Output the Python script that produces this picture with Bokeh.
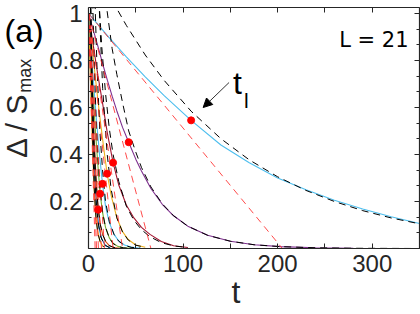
import math
from bokeh.plotting import figure
from bokeh.layouts import row
from bokeh.models import (LinearAxis, FixedTicker, CustomJSTickFormatter, Label,
                          Arrow, NormalHead, Range1d, Title)
from bokeh.embed import file_html
from bokeh.resources import INLINE

# ---------------- data ----------------
# solid curves Delta/S_max vs t
tA = [0, 20, 40, 60, 80, 108.5, 140, 170, 200, 230, 260, 290, 320, 350]
yA = [1, 0.905, 0.815, 0.73, 0.65, 0.545, 0.44, 0.365, 0.30, 0.25, 0.205, 0.168, 0.135, 0.106]
tB = [0, 5, 10, 15, 20, 25, 30, 36, 42.5, 50, 56, 66, 78, 90, 105, 126, 150, 175, 203, 240, 280, 350]
yB = [1, 0.93, 0.86, 0.785, 0.715, 0.648, 0.585, 0.515, 0.452, 0.38, 0.33, 0.255, 0.188, 0.139, 0.095, 0.056, 0.031, 0.016, 0.008, 0.003, 0.001, 0]
tC = [0, 5, 10, 15, 20, 26, 32, 40, 48, 56, 65, 77, 90, 105]
yC = [1, 0.865, 0.735, 0.615, 0.49, 0.365, 0.27, 0.185, 0.13, 0.09, 0.06, 0.03, 0.012, 0.004]
tD = [0, 4, 8, 12, 16, 19.7, 24, 30, 36, 42, 50, 60]
yD = [1, 0.85, 0.7, 0.56, 0.43, 0.318, 0.225, 0.13, 0.072, 0.038, 0.015, 0.005]
tE = [0, 3, 6, 9, 12, 14.8, 18, 22, 27, 32, 38, 45, 55]
yE = [1, 0.83, 0.67, 0.52, 0.385, 0.275, 0.18, 0.11, 0.06, 0.032, 0.015, 0.006, 0.001]
tF = [0, 2.5, 5, 7.5, 10, 12.3, 15, 18, 22, 26, 31, 37, 45]
yF = [1, 0.82, 0.65, 0.49, 0.35, 0.233, 0.15, 0.09, 0.045, 0.022, 0.009, 0.003, 0.001]
tG = [0, 2, 4, 6, 8, 10.2, 12.5, 15, 18, 22, 27, 33]
yG = [1, 0.81, 0.63, 0.46, 0.3, 0.165, 0.1, 0.06, 0.03, 0.012, 0.004, 0.001]
tH = [0, 1.5, 3, 4.5, 6, 7.5, 9, 11, 14, 18, 23]
yH = [1, 0.83, 0.66, 0.5, 0.36, 0.24, 0.16, 0.09, 0.04, 0.012, 0.003]
tI = [0, 1.2, 2.4, 3.6, 4.8, 6, 7.5, 9.5, 12, 16]
yI = [1, 0.83, 0.67, 0.51, 0.37, 0.25, 0.15, 0.08, 0.03, 0.006]

# black dashed exponential fits
fA_t = [25, 40, 60, 80, 108.5, 140, 170, 200, 230, 260, 290, 320, 350]
fA_y = [1.055, 0.949, 0.823, 0.715, 0.584, 0.467, 0.377, 0.305, 0.247, 0.200, 0.161, 0.130, 0.105]
fB_t = [18, 25, 30, 36, 42.5, 50, 56, 66, 78, 90, 105, 126, 150, 175, 203, 240, 280, 350]
fB_y = [1.06, 0.85, 0.74, 0.62, 0.50, 0.41, 0.345, 0.262, 0.19, 0.139, 0.095, 0.056, 0.031, 0.016, 0.008, 0.003, 0.001, 0]
fC_t = [11, 14, 18, 22, 26, 32, 40, 48, 56, 65, 77, 90, 105]
fC_y = [1.06, 0.86, 0.66, 0.51, 0.40, 0.285, 0.18, 0.12, 0.08, 0.05, 0.025, 0.011, 0.004]
fD_t = [11, 15, 19.7, 24, 30, 36, 42, 50, 60]
fD_y = [1.06, 0.68, 0.403, 0.25, 0.13, 0.07, 0.036, 0.014, 0.005]
fE_t = [6.5, 9, 12, 14.8, 18, 22, 27, 32, 38, 45, 55]
fE_y = [1.099, 0.769, 0.501, 0.336, 0.2, 0.115, 0.06, 0.031, 0.014, 0.005, 0.001]
fF_t = [4.5, 6, 8, 10, 12.3, 15, 18, 22, 26, 31, 37, 45]
fF_y = [1.05, 0.80, 0.556, 0.386, 0.253, 0.153, 0.09, 0.045, 0.021, 0.0085, 0.0028, 0.0007]
fG_t = [2, 4, 6, 8, 10.2, 12.5, 15, 18, 22, 27, 33]
fG_y = [1.077, 0.691, 0.443, 0.284, 0.174, 0.102, 0.06, 0.031, 0.0125, 0.0042, 0.0011]
fH_t = [2, 4, 6, 8, 10, 13, 17, 22]
fH_y = [1.13, 0.638, 0.36, 0.203, 0.115, 0.049, 0.016, 0.004]
fI_t = [2, 3, 4.5, 6, 8, 10, 13, 16]
fI_y = [1.077, 0.754, 0.441, 0.258, 0.126, 0.062, 0.021, 0.007]

# red dashed linear decay: from 1 at t=0 to 0 at t=T
T_lin = [205, 66, 36, 26, 17, 13.7, 10.5, 8.5, 7]
# red dots at t_l
tl_t = [108.5, 42.5, 26, 19.7, 14.8, 12.3, 10.2]
tl_y = [0.545, 0.452, 0.365, 0.318, 0.275, 0.233, 0.165]

curve_colors = ["#4DBEEE", "#7E2F8E", "#A2142F", "#EDB120", "#4DBEEE",
                "#77AC30", "#D95319", "#0072BD", "#EDB120"]

x_tick_vals = [0, 50, 100, 150, 200, 250, 300, 350]
y_tick_vals = [0.2, 0.4, 0.6, 0.8, 1.0]

# ---------------- main figure ----------------
XMAX, YMAX = 350, 1.025
AX = "#262626"
FONT = "Liberation Sans"

fig = figure(width=374, height=314, output_backend="svg", toolbar_location=None,
             x_range=Range1d(0, XMAX), y_range=Range1d(0, YMAX),
             min_border_left=41, min_border_right=1, min_border_top=7, min_border_bottom=66,
             x_axis_type=None, y_axis_type=None)
fig.xgrid.visible = False
fig.ygrid.visible = False
fig.outline_line_color = None

xt = FixedTicker(ticks=x_tick_vals, minor_ticks=[])
yt = FixedTicker(ticks=y_tick_vals, minor_ticks=[k * 0.2 / 3 for k in range(0, 16)])
xfmt = CustomJSTickFormatter(code="return (tick % 100 == 0) ? tick.toFixed(0) : '';")
yfmt = CustomJSTickFormatter(code="return (Math.round(tick*10)/10).toString();")
blank = CustomJSTickFormatter(code="return '';")


def style(ax, labels=True):
    ax.axis_line_color = AX
    ax.axis_line_width = 1.2
    ax.major_tick_line_color = AX
    ax.minor_tick_line_color = AX
    ax.major_tick_in = 5
    ax.major_tick_out = 0
    ax.minor_tick_in = 3
    ax.minor_tick_out = 0
    ax.major_label_text_color = AX
    ax.major_label_text_font = FONT
    ax.major_label_text_font_size = "24px" if labels else "0px"
    ax.major_label_standoff = 6 if labels else 0


bx = LinearAxis(ticker=xt, formatter=xfmt)
style(bx)
fig.add_layout(bx, "below")
tx = LinearAxis(ticker=xt, formatter=blank)
style(tx, False)
fig.add_layout(tx, "above")
ly = LinearAxis(ticker=yt, formatter=yfmt)
style(ly)
fig.add_layout(ly, "left")
ry = LinearAxis(ticker=yt, formatter=blank)
style(ry, False)
fig.add_layout(ry, "right")

# x-axis label "t" as a title below the axis, placed left of centre like the original
fig.add_layout(Title(text="t", text_font=FONT, text_font_size="32px", text_color=AX,
                     text_font_style="normal", align="left", offset=143,
                     vertical_align="bottom", standoff=-6), "below")

curves_t = [tA, tB, tC, tD, tE, tF, tG, tH, tI]
curves_y = [yA, yB, yC, yD, yE, yF, yG, yH, yI]
fits_t = [fA_t, fB_t, fC_t, fD_t, fE_t, fF_t, fG_t, fH_t, fI_t]
fits_y = [fA_y, fB_y, fC_y, fD_y, fE_y, fF_y, fG_y, fH_y, fI_y]

for t, y, c in zip(curves_t, curves_y, curve_colors):
    fig.line(t, y, line_color=c, line_width=1.1)
for t, y in zip(fits_t, fits_y):
    fig.line(t, y, line_color="black", line_width=1.0, line_dash="7 5")
for T in T_lin:
    fig.line([0, T], [1, 0], line_color="#ff2a2a", line_alpha=0.85, line_width=1.0, line_dash="7 5")
fig.scatter(tl_t, tl_y, size=7, fill_color="#ff0000", line_color="#ff0000")

# in-frame texts (image pixel -> data)
SX = XMAX / 332.0
SY = YMAX / 241.0


def dx(img_x):
    return (img_x - 87) * SX


def dy(img_y):
    return (248 - img_y) * SY


fig.add_layout(Label(x=dx(408), y=dy(39), text="L = 21", text_font="DejaVu Sans",
                     text_font_size="21px", text_color="black", text_align="right",
                     text_baseline="alphabetic"))
fig.add_layout(Label(x=dx(232), y=dy(82), text="t", text_font=FONT,
                     text_font_size="32px", text_color="black", text_align="left",
                     text_baseline="alphabetic"))
fig.add_layout(Label(x=dx(243), y=dy(100), text="l", text_font=FONT,
                     text_font_size="21px", text_color="black", text_align="left",
                     text_baseline="alphabetic"))
fig.add_layout(Arrow(end=NormalHead(size=9, fill_color="black", line_color="black"),
                     x_start=dx(228), y_start=dy(82), x_end=dx(202), y_end=dy(107),
                     line_color="#333333", line_width=1.0))

# ---------------- left strip holding the outer texts ----------------
left = figure(width=46, height=314, output_backend="svg", toolbar_location=None,
              x_range=Range1d(0, 46), y_range=Range1d(314, 0),
              min_border_left=0, min_border_right=0, min_border_top=0, min_border_bottom=0,
              x_axis_type=None, y_axis_type=None)
left.xgrid.visible = False
left.ygrid.visible = False
left.outline_line_color = None
left.add_layout(Label(x=4, y=31, text="(a)", text_font=FONT, text_font_size="32px",
                      text_color="black", text_align="left", text_baseline="alphabetic"))
left.add_layout(Label(x=16, y=196, text="Δ / S", text_font=FONT, text_font_size="30px",
                      text_color=AX, text_align="left", text_baseline="alphabetic",
                      angle=math.pi / 2))
left.add_layout(Label(x=24, y=111, text="max", text_font=FONT, text_font_size="18px",
                      text_color=AX, text_align="left", text_baseline="alphabetic",
                      angle=math.pi / 2))

page = row(left, fig, spacing=0)

open("out.html", "w").write(file_html(page, INLINE))
